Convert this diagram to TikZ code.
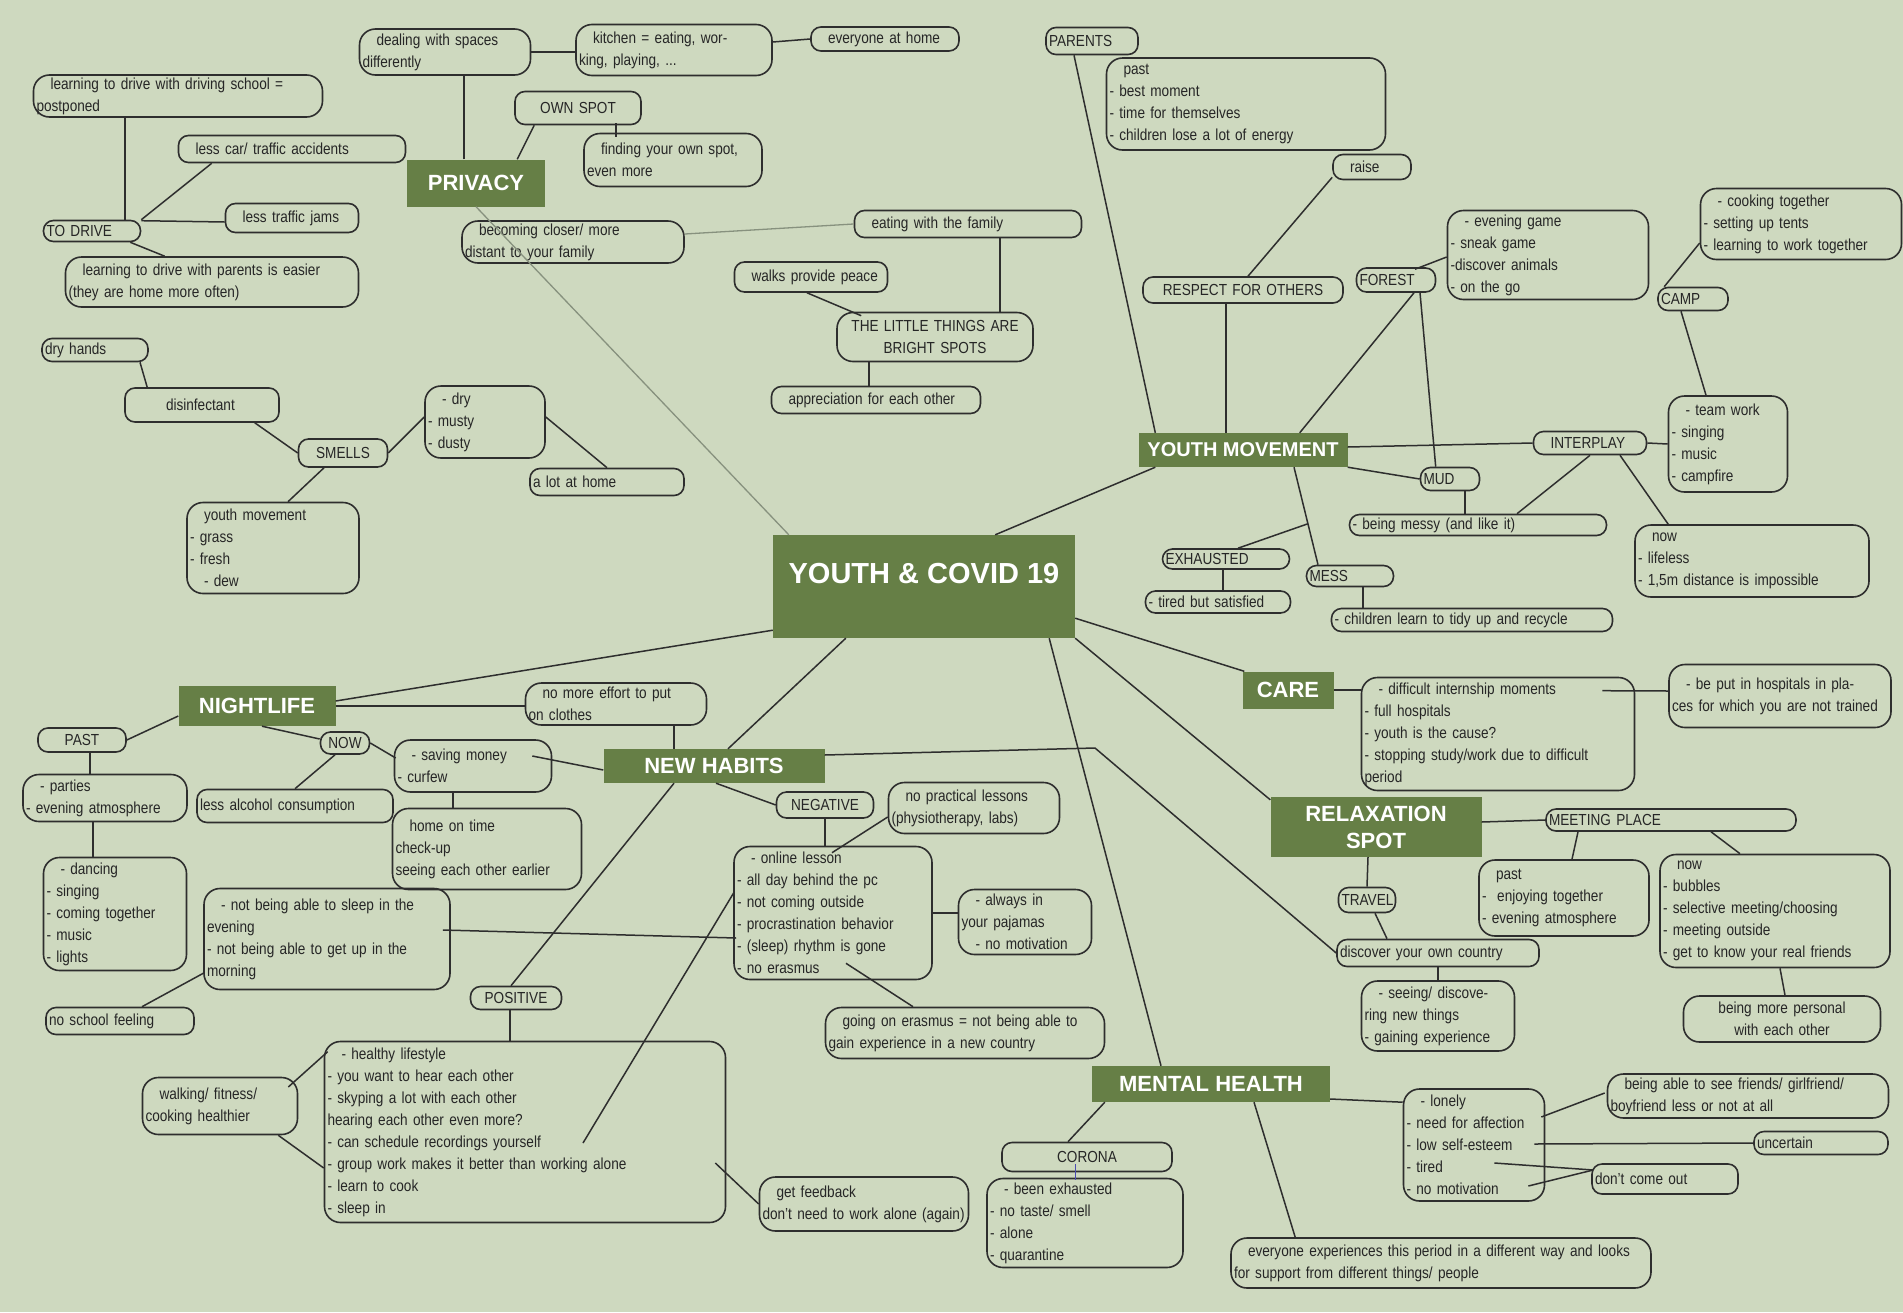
\documentclass[tikz,border=0pt]{standalone}
\usepackage{fontspec}
\setmainfont{Liberation Sans}[FakeStretch=0.85]
\newfontfamily\headfont{Liberation Sans}
\usetikzlibrary{calc}
\definecolor{sage}{HTML}{CED9BF}
\definecolor{leaf}{HTML}{667F46}
\definecolor{ink}{HTML}{262626}
\definecolor{wire}{HTML}{2E2E2E}
\definecolor{fadewire}{HTML}{87917E}
\newcommand{\ind}{\hspace*{14pt}}
\newcommand{\boxfont}{\fontsize{16pt}{22pt}\selectfont}
\newcommand{\topicfont}{\headfont\bfseries\fontsize{22pt}{27pt}\selectfont}
\tikzset{
  pill/.style={draw=wire, line width=1.6pt, rounded corners=10pt, inner xsep=3pt,
    inner ysep=1pt, align=left, font=\boxfont, text=ink},
  card/.style={pill, rounded corners=16pt},
  topic/.style={fill=leaf, text=white, font=\topicfont, inner sep=0pt, align=center},
  link/.style={draw=wire, line width=1.5pt},
  fade/.style={draw=fadewire, line width=1.3pt},
}
\begin{document}
\begin{tikzpicture}[x=1pt,y=-1pt]
  \fill[sage] (0,0) rectangle (1903,1312);
  \useasboundingbox (0,0) rectangle (1903,1312);
  % centre
  \node[topic, font=\headfont\bfseries\fontsize{29pt}{34pt}\selectfont, minimum width=302pt,
    text height=48pt, text depth=55pt, anchor=base] (center) at (924,583) {YOUTH \& COVID 19};
  % privacy
  \node[topic, minimum width=138pt, minimum height=47pt] (privacy) at (476,183) {PRIVACY};
  \node[card, text width=283pt, minimum height=42pt] (drvschool) at (178,96) {\ind learning to drive with driving school =\\postponed};
  \node[pill, text width=91pt, minimum height=21pt] (todrive) at (92,231) {TO DRIVE};
  \node[pill, text width=221pt, minimum height=27pt] (lesscar) at (292,149) {\ind less car/ traffic accidents};
  \node[pill, text width=127pt, minimum height=29pt] (jams) at (292,218) {\ind less traffic jams};
  \node[card, text width=287pt, minimum height=50pt] (pdrive) at (212,282) {\ind learning to drive with parents is easier\\(they are home more often)};
  \node[card, text width=165pt, minimum height=46pt] (dealing) at (445,52) {\ind dealing with spaces\\differently};
  \node[card, text width=190pt, minimum height=51pt] (kitchen) at (674,50) {\ind kitchen = eating, wor-\\king, playing, ...};
  \node[pill, text width=142pt, minimum height=24pt] (athome) at (885,39) {\ind everyone at home};
  \node[pill, text width=120pt, minimum height=33pt, align=center] (ownspot) at (578,108) {OWN SPOT};
  \node[card, text width=172pt, minimum height=53pt] (finding) at (673,160) {\ind finding your own spot,\\even more};
  \node[card, text width=216pt, minimum height=42pt] (closer) at (573,242) {\ind becoming closer/ more\\distant to your family};
  \node[pill, text width=221pt, minimum height=27pt] (eatfam) at (968,224) {\ind eating with the family};
  \node[pill, text width=147pt, minimum height=30pt] (walks) at (811,277) {\ind walks provide peace};
  \node[card, text width=190pt, minimum height=49pt, align=center] (little) at (935,337) {THE LITTLE THINGS ARE\\BRIGHT SPOTS};
  \node[pill, text width=203pt, minimum height=27pt] (apprec) at (876,400) {\ind appreciation for each other};
  % smells
  \node[pill, text width=100pt, minimum height=23pt] (dryhands) at (95,350) {dry hands};
  \node[pill, text width=148pt, minimum height=34pt] (disinf) at (202,405) {\hspace*{38pt}disinfectant};
  \node[pill, text width=83pt, minimum height=28pt, align=center] (smells) at (343,453) {SMELLS};
  \node[card, text width=114pt, minimum height=72pt] (drybox) at (485,422) {\ind - dry\\- musty\\- dusty};
  \node[pill, text width=148pt, minimum height=27pt] (alot) at (607,482) {a lot at home};
  \node[card, text width=166pt, minimum height=91pt] (ymsmell) at (273,548) {\ind youth movement\\- grass\\- fresh\\\ind - dew};
  % youth movement
  \node[topic, font=\headfont\bfseries\fontsize{20pt}{24pt}\selectfont, minimum width=209pt, minimum height=34pt] (ymov) at (1243,450) {YOUTH MOVEMENT};
  \node[pill, text width=86pt, minimum height=27pt] (parents) at (1092,41) {PARENTS};
  \node[card, text width=273pt, minimum height=92pt] (pastpar) at (1246,104) {\ind past\\- best moment\\- time for themselves\\- children lose a lot of energy};
  \node[pill, text width=72pt, minimum height=25pt] (raise) at (1372,167) {\ind raise};
  \node[pill, text width=194pt, minimum height=26pt, align=center] (respect) at (1243,290) {RESPECT FOR OTHERS};
  \node[pill, text width=73pt, minimum height=24pt] (forest) at (1396,280) {FOREST};
  \node[card, text width=195pt, minimum height=89pt] (evgame) at (1548,255) {\ind - evening game\\- sneak game\\-discover animals\\- on the go};
  \node[card, text width=195pt, minimum height=71pt] (cooking) at (1801,224) {\ind - cooking together\\- setting up tents\\- learning to work together};
  \node[pill, text width=64pt, minimum height=23pt] (camp) at (1693,299) {CAMP};
  \node[pill, text width=107pt, minimum height=23pt] (interplay) at (1590,443) {\ind INTERPLAY};
  \node[card, text width=113pt, minimum height=96pt] (teamwork) at (1728,444) {\ind - team work\\- singing\\- music\\- campfire};
  \node[pill, text width=53pt, minimum height=23pt] (mud) at (1450,479) {MUD};
  \node[pill, text width=251pt, minimum height=21pt] (messy) at (1478,525) {- being messy (and like it)};
  \node[card, text width=228pt, minimum height=72pt] (nowlife) at (1752,561) {\ind now\\- lifeless\\- 1,5m distance is impossible};
  \node[pill, text width=121pt, minimum height=20pt] (exhausted) at (1226,559) {EXHAUSTED};
  \node[pill, text width=139pt, minimum height=22pt] (tired) at (1218,602) {- tired but satisfied};
  \node[pill, text width=81pt, minimum height=21pt] (mess) at (1350,576) {MESS};
  \node[pill, text width=275pt, minimum height=23pt] (children) at (1472,620) {- children learn to tidy up and recycle};
  % nightlife
  \node[topic, minimum width=157pt, minimum height=40pt] (nightlife) at (257,706) {NIGHTLIFE};
  \node[pill, text width=82pt, minimum height=24pt, align=center] (past) at (82,740) {PAST};
  \node[card, text width=158pt, minimum height=47pt] (parties) at (105,798) {\ind - parties\\- evening atmosphere};
  \node[card, text width=137pt, minimum height=113pt] (dancing) at (115,914) {\ind - dancing\\- singing\\- coming together\\- music\\- lights};
  \node[pill, text width=43pt, minimum height=22pt, align=center] (now) at (345,743) {NOW};
  \node[pill, text width=190pt, minimum height=33pt] (alcohol) at (295,806) {less alcohol consumption};
  \node[card, text width=151pt, minimum height=52pt] (saving) at (473,766) {\ind - saving money\\- curfew};
  \node[card, text width=183pt, minimum height=81pt] (hometime) at (487,849) {\ind home on time\\check-up\\seeing each other earlier};
  \node[card, text width=175pt, minimum height=42pt] (effort) at (616,704) {\ind no more effort to put\\on clothes};
  % new habits
  \node[topic, minimum width=221pt, minimum height=34pt] (newhabits) at (714,766) {NEW HABITS};
  \node[pill, text width=91pt, minimum height=26pt, align=center] (negative) at (825,805) {NEGATIVE};
  \node[card, text width=165pt, minimum height=51pt] (practical) at (974,808) {\ind no practical lessons\\(physiotherapy, labs)};
  \node[card, text width=192pt, minimum height=133pt] (online) at (833,913) {\ind - online lesson\\- all day behind the pc\\- not coming outside\\- procrastination behavior\\- (sleep) rhythm is gone\\- no erasmus};
  \node[card, text width=127pt, minimum height=65pt] (pajamas) at (1025,922) {\ind - always in\\your pajamas\\\ind - no motivation};
  \node[card, text width=240pt, minimum height=101pt] (sleep) at (327,939) {\ind - not being able to sleep in the\\evening\\- not being able to get up in the\\morning};
  \node[pill, text width=142pt, minimum height=27pt] (noschool) at (120,1021) {no school feeling};
  \node[pill, text width=85pt, minimum height=23pt, align=center] (positive) at (516,998) {POSITIVE};
  \node[card, text width=395pt, minimum height=181pt] (healthy) at (525,1132) {\ind - healthy lifestyle\\- you want to hear each other\\- skyping a lot with each other\\hearing each other even more?\\- can schedule recordings yourself\\- group work makes it better than working alone\\- learn to cook\\- sleep in};
  \node[card, text width=149pt, minimum height=57pt] (walking) at (220,1106) {\ind walking/ fitness/\\cooking healthier};
  \node[card, text width=273pt, minimum height=51pt] (erasmus) at (965,1033) {\ind going on erasmus = not being able to\\gain experience in a new country};
  \node[card, text width=203pt, minimum height=54pt] (feedback) at (864,1204) {\ind get feedback\\\mbox{don't need to work alone (again)}};
  % care
  \node[topic, minimum width=91pt, minimum height=37pt] (care) at (1288,690) {CARE};
  \node[card, text width=267pt, minimum height=113pt] (internship) at (1498,734) {\ind - difficult internship moments\\- full hospitals\\- youth is the cause?\\- stopping study/work due to difficult\\period};
  \node[card, text width=216pt, minimum height=63pt] (hospitals) at (1780,696) {\ind - be put in hospitals in pla-\\ces for which you are not trained};
  % relaxation spot
  \node[topic, minimum width=211pt, minimum height=60pt] (relax) at (1376,827) {RELAXATION\\SPOT};
  \node[pill, text width=244pt, minimum height=22pt] (meeting) at (1671,820) {MEETING PLACE};
  \node[card, text width=164pt, minimum height=76pt] (pastmeet) at (1564,898) {\ind past\\-\ \ enjoying together\\- evening atmosphere};
  \node[card, text width=224pt, minimum height=113pt] (nowmeet) at (1775,911) {\ind now\\- bubbles\\- selective meeting/choosing\\- meeting outside\\- get to know your real friends};
  \node[pill, text width=51pt, minimum height=25pt] (travel) at (1367,900) {TRAVEL};
  \node[pill, text width=196pt, minimum height=27pt] (discover) at (1438,953) {discover your own country};
  \node[card, text width=147pt, minimum height=70pt] (seeing) at (1438,1016) {\ind - seeing/ discove-\\ring new things\\- gaining experience};
  \node[card, text width=191pt, minimum height=46pt, align=center] (personal) at (1782,1019) {being more personal\\with each other};
  % mental health
  \node[topic, minimum width=238pt, minimum height=36pt] (mental) at (1211,1084) {MENTAL HEALTH};
  \node[pill, text width=164pt, minimum height=29pt, align=center] (corona) at (1087,1157) {CORONA};
  \node[card, text width=190pt, minimum height=89pt] (exbox) at (1085,1223) {\ind - been exhausted\\- no taste/ smell\\- alone\\- quarantine};
  \node[card, text width=135pt, minimum height=112pt] (lonely) at (1474,1145) {\ind - lonely\\- need for affection\\- low self-esteem\\- tired\\- no motivation};
  \node[card, text width=275pt, minimum height=44pt] (friends) at (1748,1096) {\ind being able to see friends/ girlfriend/\\boyfriend less or not at all};
  \node[pill, text width=128pt, minimum height=23pt] (uncertain) at (1821,1143) {uncertain};
  \node[pill, text width=140pt, minimum height=30pt] (dontcome) at (1665,1179) {don't come out};
  \node[card, text width=414pt, minimum height=50pt] (support) at (1441,1263) {\ind everyone experiences this period in a different way and looks\\for support from different things/ people};

  % spokes from the centre
  \draw[fade] ($(center.north west)+(16,0)$) -- (privacy.south);
  \draw[link] ($(center.north east)+(-80,0)$) -- ($(ymov.south west)+(17,0)$);
  \draw[link] ($(center.south west)+(0,-8)$) -- ($(nightlife.east)+(0,-5)$);
  \draw[link] ($(center.south west)+(73,0)$) -- ($(newhabits.north)+(14,0)$);
  \draw[link] ($(center.south east)+(0,-20)$) -- ($(care.north west)+(2,0)$);
  \draw[link] (center.south east) -- ($(relax.north west)+(0,3)$);
  \draw[link] ($(center.south east)+(-26,0)$) -- ($(mental.north)+(-50,0)$);
  % privacy links
  \draw[link] ($(privacy.north)+(-12,0)$) -- ($(dealing.south)+(19,0)$);
  \draw[link] (dealing.east) -- (kitchen.west |- dealing.east);
  \draw[link] ($(kitchen.east)+(0,-8)$) -- (athome.west);
  \draw[link] ($(privacy.north east)+(-28,0)$) -- ($(ownspot.south west)+(20,0)$);
  \draw[link] ($(ownspot.south)+(38,-2)$) -- ($(finding.north)+(-57,4)$);
  \draw[fade] ($(closer.east)+(0,-8)$) -- (eatfam.west);
  \draw[link] ($(eatfam.south)+(32,0)$) -- ($(little.north)+(65,0)$);
  \draw[link] ($(walks.south)+(-4,0)$) -- ($(little.north west)+(25,4)$);
  \draw[link] ($(little.south)+(-66,0)$) -- ($(apprec.north)+(-7,0)$);
  \draw[link] ($(drvschool.south)+(-53,0)$) -- ($(todrive.north)+(33,0)$);
  \draw[link] (todrive.north east) -- ($(lesscar.south west)+(34,0)$);
  \draw[link] ($(todrive.north east)+(0,1)$) -- ($(jams.west)+(0,4)$);
  \draw[link] ($(todrive.south east)+(-11,0)$) -- ($(pdrive.north west)+(100,0)$);
  % smells links
  \draw[link] ($(dryhands.south)+(45,0)$) -- ($(disinf.north west)+(23,0)$);
  \draw[link] ($(disinf.south east)+(-25,0)$) -- (smells.west);
  \draw[link] (smells.east) -- ($(drybox.west)+(0,-5)$);
  \draw[link] ($(drybox.east)+(0,-5)$) -- (alot.north);
  \draw[link] ($(smells.south)+(-19,0)$) -- ($(ymsmell.north)+(15,0)$);
  % youth movement links
  \draw[link] ($(parents.south)+(-18,0)$) -- ($(ymov.north west)+(17,0)$);
  \draw[link] ($(respect.south)+(-17,0)$) -- ($(ymov.north)+(-17,0)$);
  \draw[link] ($(raise.south west)+(0,-3)$) -- ($(respect.north)+(5,0)$);
  \draw[link] ($(forest.south)+(18,0)$) -- ($(ymov.north east)+(-48,0)$);
  \draw[link] ($(forest.north)+(19,2)$) -- ($(evgame.west)+(0,2)$);
  \draw[link] ($(forest.south)+(24,0)$) -- ($(mud.north west)+(16,0)$);
  \draw[link] ($(camp.north west)+(7,0)$) -- ($(cooking.west)+(0,19)$);
  \draw[link] ($(camp.south)+(-12,0)$) -- ($(teamwork.north)+(-22,0)$);
  \draw[link] ($(ymov.east)+(0,-3)$) -- (interplay.west);
  \draw[link] (interplay.east) -- (teamwork.west);
  \draw[link] (interplay.south) -- ($(messy.north)+(39,0)$);
  \draw[link] ($(interplay.south)+(30,0)$) -- ($(nowlife.north west)+(34,0)$);
  \draw[link] (ymov.south east) -- (mud.west);
  \draw[link] ($(mud.south)+(15,0)$) -- ($(messy.north)+(-13,0)$);
  \coordinate (ymfoot) at ($(ymov.south)+(51,0)$);
  \coordinate (messtop) at ($(mess.north)+(-32,0)$);
  \coordinate (exjoin) at ($(ymfoot)!0.58!(messtop)$);
  \draw[link] (ymfoot) -- (messtop);
  \draw[link] (exjoin) -- ($(exhausted.north)+(12,0)$);
  \draw[link] ($(exhausted.south)+(-3,0)$) -- ($(tired.north)+(5,0)$);
  \draw[link] ($(mess.south)+(13,0)$) -- ($(children.north)+(-109,0)$);
  % nightlife links
  \draw[link] (nightlife.east) -- (effort.west |- nightlife.east);
  \draw[link] ($(nightlife.west)+(0,10)$) -- (past.east);
  \draw[link] ($(past.south)+(8,0)$) -- ($(parties.north)+(-15,0)$);
  \draw[link] ($(parties.south)+(-12,0)$) -- ($(dancing.north)+(-22,0)$);
  \draw[link] ($(nightlife.south)+(5,0)$) -- ($(now.west)+(0,-4)$);
  \draw[link] ($(now.south)+(-10,0)$) -- (alcohol.north);
  \draw[link] (now.east) -- ($(saving.west)+(2,-8)$);
  \draw[link] ($(saving.south)+(-20,0)$) -- ($(hometime.north)+(-34,0)$);
  % new habits links
  \draw[link] ($(saving.east)+(-20,-10)$) -- ($(newhabits.west)+(0,4)$);
  \draw[link] ($(effort.south)+(58,0)$) -- ($(newhabits.north)+(-40,0)$);
  \draw[link] ($(newhabits.south)+(2,0)$) -- (negative.west);
  \draw[link] (negative.south) -- ($(online.north)+(-8,0)$);
  \draw[link] ($(practical.west)+(0,9)$) -- ($(online.north)+(-1,7)$);
  \draw[link] (online.east) -- (pajamas.west |- online.east);
  \draw[link] ($(sleep.east)+(-8,-9)$) -- ($(online.west)+(3,25)$);
  \draw[link] ($(online.south)+(13,-17)$) -- ($(erasmus.north)+(-52,0)$);
  \draw[link] ($(newhabits.south)+(-40,0)$) -- ($(positive.north)+(-5,0)$);
  \draw[link] ($(positive.south)+(-6,0)$) -- ($(healthy.north)+(-15,0)$);
  \draw[link] ($(online.west)+(1,-21)$) -- ($(healthy.center)+(58,11)$);
  \draw[link] ($(walking.east)+(-10,-19)$) -- ($(healthy.north west)+(4,11)$);
  \draw[link] ($(walking.south east)+(-20,0)$) -- ($(healthy.west)+(0,36)$);
  \draw[link] ($(healthy.east)+(-11,31)$) -- (feedback.west);
  \draw[link] ($(sleep.south west)+(0,-17)$) -- ($(noschool.north)+(22,0)$);
  \coordinate (bend) at (1095,748);
  \draw[link] ($(newhabits.east)+(0,-11)$) -- (bend) -- (discover.west);
  % care and relaxation links
  \draw[link] (care.east) -- (internship.west |- care.east);
  \draw[link] ($(internship.north east)+(-33,14)$) -- ($(hospitals.west)+(0,-5)$);
  \draw[link] ($(relax.east)+(0,-5)$) -- (meeting.west);
  \draw[link] ($(meeting.south)+(-93,0)$) -- ($(pastmeet.north)+(8,0)$);
  \draw[link] ($(meeting.south)+(40,0)$) -- ($(nowmeet.north)+(-35,0)$);
  \draw[link] ($(relax.south)+(-8,0)$) -- (travel.north);
  \draw[link] ($(travel.south)+(8,0)$) -- ($(discover.north)+(-51,0)$);
  \draw[link] (discover.south) -- (seeing.north);
  \draw[link] ($(nowmeet.south)+(5,0)$) -- ($(personal.north)+(3,0)$);
  % mental health links
  \draw[link] ($(mental.south west)+(13,0)$) -- ($(corona.north)+(-19,0)$);
  \draw[draw=blue!40!gray, line width=0.6pt] ($(corona.south)+(-12,-8)$) -- ($(exbox.north)+(-10,2)$);
  \draw[link] ($(mental.east)+(0,15)$) -- ($(lonely.north west)+(0,14)$);
  \draw[link] ($(mental.south)+(43,0)$) -- ($(support.north west)+(65,0)$);
  \draw[link] ($(lonely.east)+(-4,-28)$) -- ($(friends.west)+(-2,-3)$);
  \draw[link] ($(lonely.east)+(-11,-1)$) -- (uncertain.west);
  \draw[link] ($(lonely.east)+(-51,18)$) -- ($(dontcome.west)+(2,-9)$);
  \draw[link] ($(lonely.east)+(-17,41)$) -- ($(dontcome.west)+(2,-9)$);
\end{tikzpicture}
\end{document}
